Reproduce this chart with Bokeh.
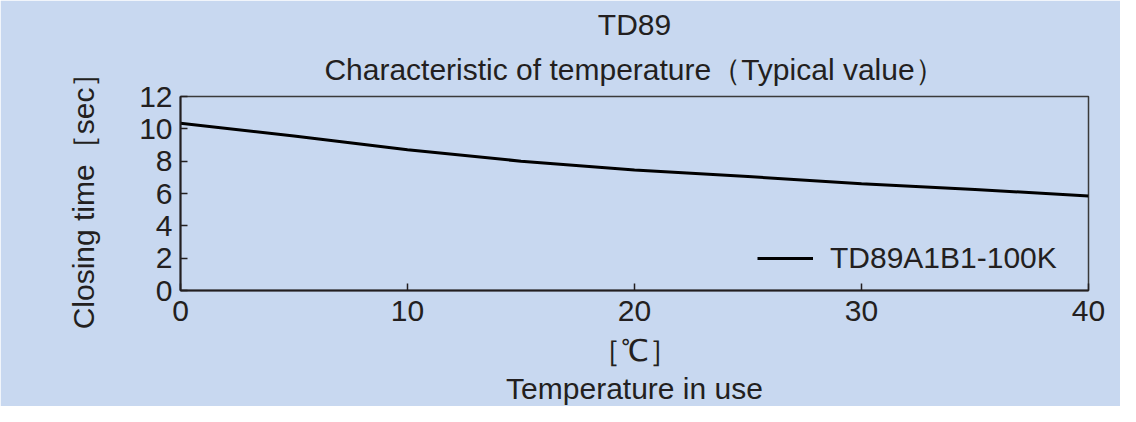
from bokeh.plotting import figure
from bokeh.models import Range1d, FixedTicker, Title, Legend, LegendItem
from bokeh.embed import file_html
from bokeh.resources import INLINE

# ---- data ----
temperature = [0, 5, 10, 15, 20, 25, 30, 35, 40]
closing_time = [10.35, 9.55, 8.7, 8.0, 7.45, 7.05, 6.6, 6.25, 5.85]
x_ticks = [0, 10, 20, 30, 40]
y_ticks = [0, 2, 4, 6, 8, 10, 12]
series_name = "TD89A1B1-100K"
title_line1 = "TD89"
title_line2 = "Characteristic of temperature（Typical value）"
x_unit = "［℃］"
x_label = "Temperature in use"
y_label = "Closing time［sec］"

FONT = "Liberation Sans"
TXT = "#231f20"
BG = "#c8d8f0"
FS = "30px"

p = figure(width=1120, height=406, output_backend="svg", toolbar_location=None,
           x_range=Range1d(0, 40), y_range=Range1d(0, 12),
           min_border_left=180, min_border_right=32, min_border_top=96, min_border_bottom=116)
p.background_fill_color = BG
p.border_fill_color = BG
p.outline_line_color = "#3a3a3a"
p.outline_line_width = 1.5
p.grid.visible = False

# titles (second line is closest to the plot)
t2 = Title(text=title_line2, align="center", text_font=FONT, text_font_size=FS,
           text_font_style="normal", text_color=TXT, standoff=21)
p.add_layout(t2, "above")
t1 = Title(text=title_line1, align="center", text_font=FONT, text_font_size=FS,
           text_font_style="normal", text_color=TXT, standoff=0)
p.add_layout(t1, "above")

for ax in (p.xaxis[0], p.yaxis[0]):
    ax.major_label_text_font = FONT
    ax.major_label_text_font_size = FS
    ax.major_label_text_color = TXT
    ax.axis_label_text_font = FONT
    ax.axis_label_text_font_size = FS
    ax.axis_label_text_font_style = "normal"
    ax.axis_label_text_color = TXT
    ax.axis_line_color = TXT
    ax.axis_line_width = 2
    ax.major_tick_line_color = TXT
    ax.major_tick_line_width = 1.5
    ax.major_tick_in = 7
    ax.major_tick_out = 0
    ax.minor_tick_line_color = None

p.xaxis[0].ticker = FixedTicker(ticks=x_ticks)
p.yaxis[0].ticker = FixedTicker(ticks=y_ticks)
p.xaxis[0].major_label_standoff = 10
p.yaxis[0].major_label_standoff = 8
p.xaxis[0].axis_label = x_unit
p.xaxis[0].axis_label_standoff = 10
p.yaxis[0].axis_label = y_label
p.yaxis[0].axis_label_standoff = 36

tb = Title(text=x_label, align="center", text_font=FONT, text_font_size=FS,
           text_font_style="normal", text_color=TXT, standoff=0)
p.add_layout(tb, "below")

r = p.line(temperature, closing_time, line_color="black", line_width=3)

legend = Legend(items=[LegendItem(label=series_name, renderers=[r])],
                location=(577, 15), background_fill_alpha=0, border_line_color=None,
                padding=0, margin=0, glyph_width=56, glyph_height=30, label_height=30,
                label_standoff=17, label_text_font=FONT, label_text_font_size=FS,
                label_text_color=TXT)
p.add_layout(legend, "center")

open("out.html", "w").write(file_html(p, INLINE))
